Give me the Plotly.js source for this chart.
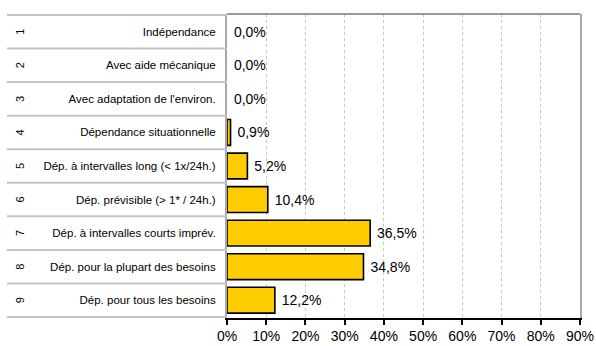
<!DOCTYPE html>
<html>
<head>
<meta charset="utf-8">
<script src="https://cdn.plot.ly/plotly-3.0.1.min.js"></script>
<style>html,body{margin:0;padding:0;background:#fff;}#chart{width:596px;height:346px;}</style>
</head>
<body>
<div id="chart"></div>
<script>
var codes = ["1","2","3","4","5","6","7","8","9"];
var categories = [
  "Indépendance",
  "Avec aide mécanique",
  "Avec adaptation de l'environ.",
  "Dépendance situationnelle",
  "Dép. à intervalles long (< 1x/24h.)",
  "Dép. prévisible (> 1* / 24h.)",
  "Dép. à intervalles courts imprév.",
  "Dép. pour la plupart des besoins",
  "Dép. pour tous les besoins"
];
var values = [0.0, 0.0, 0.0, 0.9, 5.2, 10.4, 36.5, 34.8, 12.2];
var tickVals = [0,10,20,30,40,50,60,70,80,90];
var tickText = tickVals.map(function(t){ return t + '%'; });

var L = 227, R = 16, T = 14, B = 28, W = 596, H = 346;
var pw = W - L - R;
function px2paper(px){ return (px - L) / pw; }

var labels = values.map(function(v){ return ' ' + v.toFixed(1).replace('.', ',') + '%'; });
var lineWidths = values.map(function(v){ return v > 0 ? 1.6 : 0; });

var trace = {
  type: 'bar',
  orientation: 'h',
  x: values,
  y: categories,
  text: labels,
  textposition: 'outside',
  cliponaxis: false,
  textfont: {family: 'Liberation Sans, Arial, sans-serif', size: 14, color: '#000'},
  marker: {color: '#FFCC00', line: {color: '#000', width: lineWidths}},
  hoverinfo: 'none'
};

var shapes = [];
for (var i = 0; i <= categories.length; i++) {
  shapes.push({type: 'line', xref: 'paper', yref: 'y', x0: px2paper(7), x1: 0,
    y0: i - 0.5, y1: i - 0.5, line: {color: '#c4c4c4', width: 2}});
}
shapes.push({type: 'line', xref: 'paper', yref: 'paper', x0: 0, x1: 1, y0: 1, y1: 1,
  line: {color: '#9a9a9a', width: 2}});

var annotations = codes.map(function(c, i){
  return {xref: 'paper', yref: 'y', x: px2paper(20), y: i, text: c, showarrow: false,
    textangle: -90, xanchor: 'center', yanchor: 'middle',
    font: {family: 'Liberation Sans, Arial, sans-serif', size: 11, color: '#000'}};
});

var layout = {
  width: W, height: H,
  margin: {l: L, r: R, t: T, b: B, pad: 0},
  paper_bgcolor: '#fff', plot_bgcolor: '#fff',
  showlegend: false,
  bargap: 0.23,
  font: {family: 'Liberation Sans, Arial, sans-serif', color: '#000'},
  xaxis: {
    range: [0, 90], tickmode: 'array', tickvals: tickVals, ticktext: tickText,
    showgrid: true, gridcolor: '#c4c4c4', griddash: 'dot', gridwidth: 1,
    zeroline: false, showline: true, linecolor: '#000', linewidth: 2,
    ticks: 'outside', ticklen: 5, tickwidth: 2, tickcolor: '#000',
    ticklabelstandoff: -1,
    tickfont: {size: 14, color: '#000'}, fixedrange: true
  },
  yaxis: {
    type: 'category', autorange: 'reversed',
    showgrid: false, zeroline: false,
    showline: true, linecolor: '#a8a8a8', linewidth: 2, mirror: true,
    ticks: '', ticklabelstandoff: 7,
    tickfont: {size: 11.5, color: '#000'}, fixedrange: true
  },
  shapes: shapes,
  annotations: annotations
};

Plotly.newPlot('chart', [trace], layout, {displayModeBar: false, staticPlot: true});
</script>
</body>
</html>
